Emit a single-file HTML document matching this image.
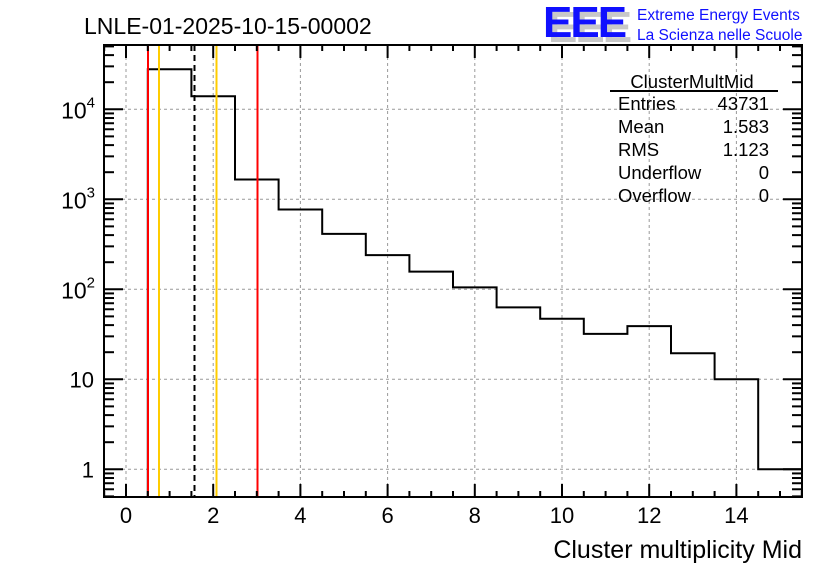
<!DOCTYPE html><html><head><meta charset="utf-8"><style>
body{margin:0;background:#fff}svg{display:block;font-family:"Liberation Sans",sans-serif}
</style></head><body>
<svg id="s" width="836" height="572" xmlns="http://www.w3.org/2000/svg">
<rect width="836" height="572" fill="#fff"/>
<text x="84" y="34" font-size="23">LNLE-01-2025-10-15-00002</text>
<g font-size="44" font-weight="bold" letter-spacing="-2">
<text x="548" y="42" fill="#c8c8c8">EEE</text>
<text x="543" y="37" fill="#1010ff">EEE</text></g>
<text x="637" y="20" font-size="15.5" fill="#1010ff">Extreme Energy Events</text>
<text x="637" y="40" font-size="15.5" fill="#1010ff">La Scienza nelle Scuole</text>
<g id="g"></g>
<g font-size="18.5">
<text x="692" y="88" text-anchor="middle">ClusterMultMid</text>
<line x1="610" y1="91" x2="778" y2="91" stroke="#000" stroke-width="2"/>
<text x="618" y="110">Entries</text><text x="769" y="110" text-anchor="end">43731</text>
<text x="618" y="133">Mean</text><text x="769" y="133" text-anchor="end">1.583</text>
<text x="618" y="156">RMS</text><text x="769" y="156" text-anchor="end">1.123</text>
<text x="618" y="179">Underflow</text><text x="769" y="179" text-anchor="end">0</text>
<text x="618" y="202">Overflow</text><text x="769" y="202" text-anchor="end">0</text>
</g>
<text x="802" y="558" font-size="25" text-anchor="end">Cluster multiplicity Mid</text>
</svg>
<script>
var g=document.getElementById('g'),h='';
var L=104,R=802,T=45,B=497;
function X(v){return 126+(v)*43.6}
function Y(v){return 109.3-90*(Math.log10(v)-4)}
for(var i=0;i<=14;i+=2){h+='<line x1="'+X(i)+'" y1="'+T+'" x2="'+X(i)+'" y2="'+B+'" stroke="#999" stroke-dasharray="3,3"/>';}
for(var e=0;e<=4;e++){var y=Y(Math.pow(10,e));h+='<line x1="'+L+'" y1="'+y+'" x2="'+R+'" y2="'+y+'" stroke="#999" stroke-dasharray="3,3"/>';}
var d=[27900,13960,1660,770,413,240,157,105,63,47,32,39,19.5,10,1];
var p='M'+X(0.5)+','+B;
for(var k=0;k<d.length;k++){var y=Y(d[k]);p+=' L'+X(0.5+k)+','+y+' L'+X(1.5+k)+','+y;}
p+=' L'+X(15.5)+','+Y(1);
h+='<path d="'+p+'" fill="none" stroke="#000" stroke-width="2"/>';
h+='<line x1="148" y1="45" x2="148" y2="497" stroke="#f00" stroke-width="2"/>';
h+='<line x1="257.5" y1="45" x2="257.5" y2="497" stroke="#f00" stroke-width="2"/>';
h+='<line x1="159" y1="45" x2="159" y2="497" stroke="#fc0" stroke-width="2"/>';
h+='<line x1="216.5" y1="45" x2="216.5" y2="497" stroke="#fc0" stroke-width="2"/>';
h+='<line x1="194.5" y1="45" x2="194.5" y2="497" stroke="#000" stroke-width="2" stroke-dasharray="6,4"/>';
h+='<rect x="'+L+'" y="'+T+'" width="'+(R-L)+'" height="'+(B-T)+'" fill="none" stroke="#000" stroke-width="2"/>';
for(var v=-0.5;v<=15.5;v+=0.5){var x=X(v),len=(v%2==0)?13:6;if(x<L||x>R)continue;
h+='<line x1="'+x+'" y1="'+B+'" x2="'+x+'" y2="'+(B-len)+'" stroke="#000" stroke-width="2"/>';
h+='<line x1="'+x+'" y1="'+T+'" x2="'+x+'" y2="'+(T+len)+'" stroke="#000" stroke-width="2"/>';}
for(var i=0;i<=14;i+=2)h+='<text x="'+X(i)+'" y="523" font-size="22" text-anchor="middle">'+i+'</text>';
for(var e=-1;e<=4;e++)for(var m=1;m<=9;m++){var v=m*Math.pow(10,e),y=Y(v);if(y<T||y>B)continue;var len=m==1?19:10;
h+='<line x1="'+L+'" y1="'+y+'" x2="'+(L+len)+'" y2="'+y+'" stroke="#000" stroke-width="2"/>';
h+='<line x1="'+R+'" y1="'+y+'" x2="'+(R-len)+'" y2="'+y+'" stroke="#000" stroke-width="2"/>';}
h+='<text x="94" y="'+(Y(1)+8)+'" font-size="22" text-anchor="end">1</text>';
h+='<text x="94" y="'+(Y(10)+8)+'" font-size="22" text-anchor="end">10</text>';
for(var e=2;e<=4;e++)h+='<text x="95" y="'+(Y(Math.pow(10,e))+9)+'" font-size="23" text-anchor="end">10<tspan font-size="15" dy="-11">'+e+'</tspan></text>';
g.innerHTML=h;
</script>
</body></html>
